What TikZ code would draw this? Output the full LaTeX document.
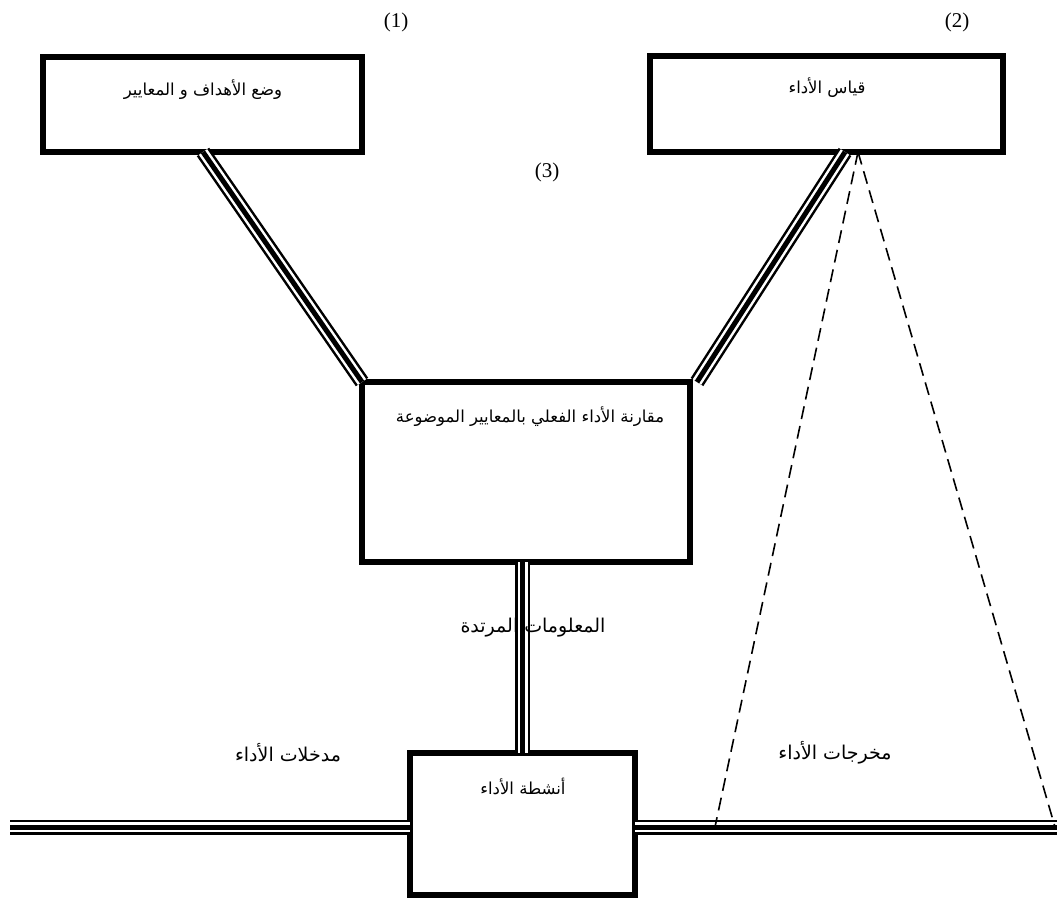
\documentclass[tikz,border=0pt]{standalone}
\usepackage{fontspec}
\setmainfont{Liberation Serif}
\newfontfamily\arabicfont[Script=Arabic]{DejaVu Sans}
\TeXXeTstate=1
\begin{document}
\begin{tikzpicture}[x=1pt,y=-1pt,
  box/.style={draw, line width=5.5pt, rectangle, outer sep=0pt, inner sep=0pt},
  tripleline/.style={line width=5pt,
    preaction={draw, line width=15pt},
    preaction={draw=white, line width=10pt}},
  sightline/.style={line width=1.6pt, dash pattern=on 13pt off 7pt},
  boxtext/.style={inner sep=0pt, font=\arabicfont\fontsize{16.5}{20}\selectfont},
  flowtext/.style={inner sep=0pt, font=\arabicfont\fontsize{19}{23}\selectfont},
  num/.style={inner sep=0pt, font=\fontsize{21}{25}\selectfont}]
\useasboundingbox (0,0) rectangle (1057,903);

% boxes
\node[box, minimum width=319pt, minimum height=95pt]  (goal) at (202.5,104.5) {};
\node[box, minimum width=353pt, minimum height=96pt]  (meas) at (826.5,104) {};
\node[box, minimum width=328pt, minimum height=180pt] (cmp)  at (526,472) {};
\node[box, minimum width=225pt, minimum height=142pt] (act)  at (522.5,824) {};

% box captions
\node[boxtext] (goaltxt) at (203,90)  {\beginR وضع الأهداف و المعايير\endR};
\node[boxtext] (meastxt) at (827,88)  {\beginR قياس الأداء\endR};
\node[boxtext] (cmptxt)  at (530,417) {\beginR مقارنة الأداء الفعلي بالمعايير الموضوعة\endR};
\node[boxtext] (acttxt)  at (523,786) {\beginR أنشطة الأداء\endR};

% step numbers
\node[num] (n1) at (396,22)  {(1)};
\node[num] (n2) at (957,22)  {(2)};
\node[num] (n3) at (547,172) {(3)};

% bus ends
\coordinate (inL)  at (10,827);
\coordinate (outR) at (1057,827);
\coordinate (outL) at (715,827);

% connectors
\draw[tripleline] ([xshift=160pt]goal.south west) -- (cmp.north west);
\draw[tripleline] ([xshift=-158pt]meas.south east) -- ([xshift=7pt]cmp.north east);
\draw[tripleline] (cmp.south -| act.north) -- (act.north);
\draw[tripleline] (inL) -- (inL -| act.west);
\draw[tripleline] (act.east |- outR) -- (outR);

% measurement cone
\coordinate (apex) at ([xshift=-145pt]meas.south east);
\draw[sightline] (apex) -- (outL);
\draw[sightline] (apex) -- ([xshift=-2pt]outR);

% flow labels
\node[flowtext] (fb)  at (533,628) {\beginR المعلومات المرتدة\endR};
\node[flowtext] (inp) at (288,753) {\beginR مدخلات الأداء\endR};
\node[flowtext] (out) at (835,753) {\beginR مخرجات الأداء\endR};
\end{tikzpicture}
\end{document}
